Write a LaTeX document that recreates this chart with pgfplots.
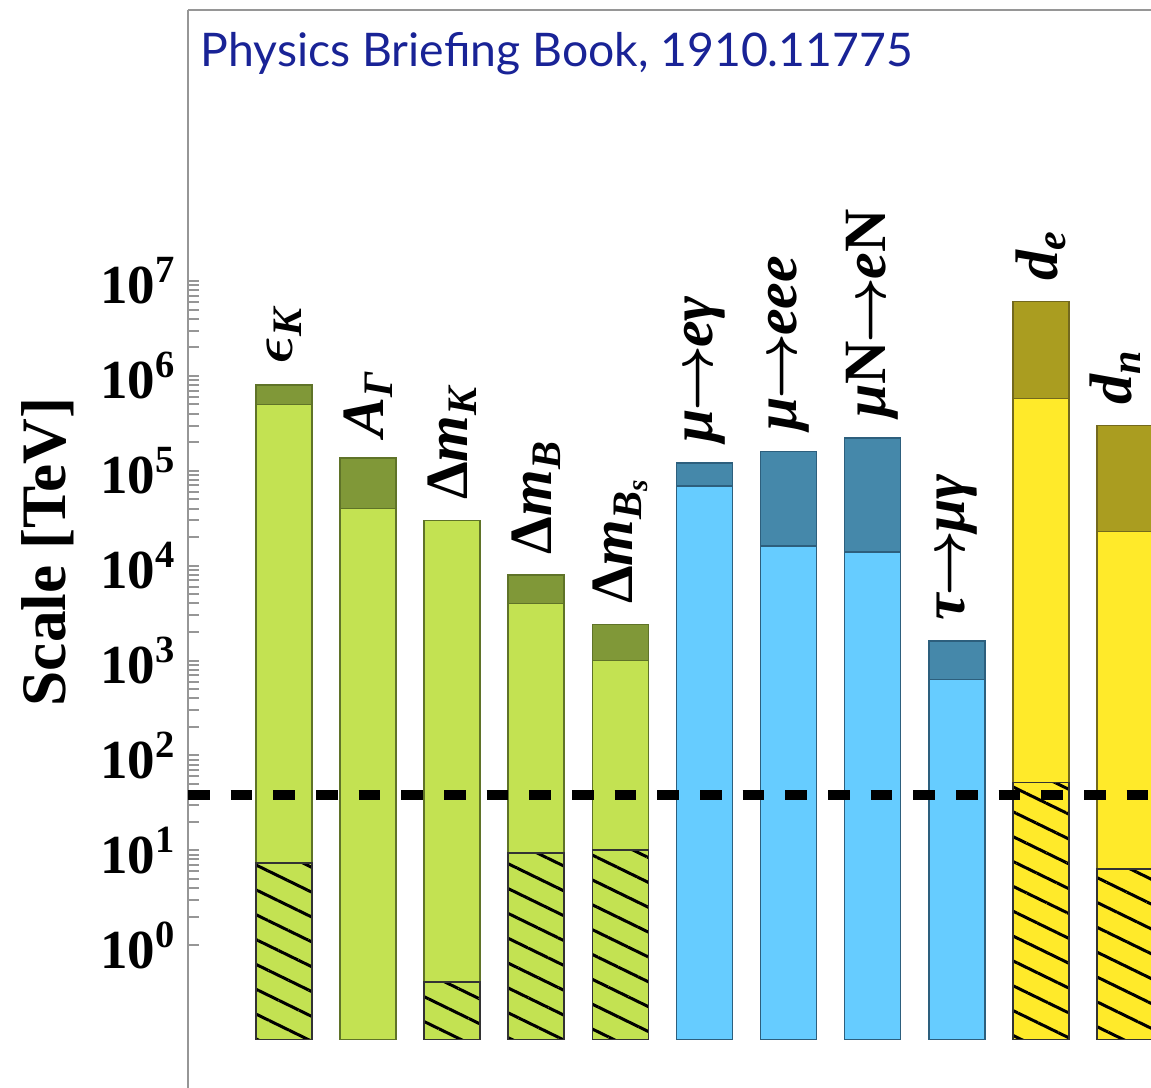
\documentclass[border=0pt]{standalone}
\usepackage{pgfplots}
\pgfplotsset{compat=1.18}
\usepackage{fontspec}
\setmainfont{Liberation Serif}
\newfontfamily\titlefont{Lato}
\usetikzlibrary{patterns.meta,calc}

\definecolor{lg}{RGB}{195,226,82}
\definecolor{dg}{RGB}{128,152,56}
\definecolor{og}{RGB}{95,115,40}
\definecolor{lb}{RGB}{102,204,255}
\definecolor{db}{RGB}{69,136,170}
\definecolor{ob}{RGB}{45,95,125}
\definecolor{ly}{RGB}{255,234,42}
\definecolor{dy}{RGB}{170,157,32}
\definecolor{oy}{RGB}{115,105,30}
\definecolor{tb}{RGB}{25,35,150}
\definecolor{sp}{RGB}{150,150,150}

\newcommand\arr{\kern-0.04em{\boldmath$\rightarrow$}\kern-0.04em}
\tikzset{lbl/.style={anchor=west, rotate=90, inner xsep=6pt, inner ysep=0pt, font=\fontsize{18}{18}\selectfont\bfseries\itshape}}

\begin{document}
\begin{tikzpicture}
\begin{axis}[
 name=ax,
 scale only axis,
 width=288.9pt, height=309pt,
 xmin=-1.141, xmax=10.31,
 ymode=log, ymin=0.1, ymax=7.2e9,
 log origin y=infty,
 axis x line*=top, axis y line*=left,
 axis line style={draw=sp, line width=0.6pt},
 y axis line style={shorten <=-14.4pt},
 xtick=\empty,
 ytick={1,10,100,1000,10000,100000,1000000,10000000},
 yticklabels={10\textsuperscript{0},10\textsuperscript{1},10\textsuperscript{2},10\textsuperscript{3},10\textsuperscript{4},10\textsuperscript{5},10\textsuperscript{6},10\textsuperscript{7}},
 minor ytick={2,3,4,5,6,7,8,9,20,30,40,50,60,70,80,90,200,300,400,500,600,700,800,900,2000,3000,4000,5000,6000,7000,8000,9000,2e4,3e4,4e4,5e4,6e4,7e4,8e4,9e4,2e5,3e5,4e5,5e5,6e5,7e5,8e5,9e5,2e6,3e6,4e6,5e6,6e6,7e6,8e6,9e6},
 tick align=inside,
 major tick length=3.3pt, minor tick length=3.3pt,
 tick style={draw=sp, line width=0.6pt},
 yticklabel style={font=\bfseries\fontsize{16.5}{16.5}\selectfont, inner sep=0pt, xshift=-3.3pt},
 ylabel={Scale [TeV]},
 ylabel shift=7.8pt,
 ylabel style={font=\bfseries\fontsize{19}{19}\selectfont, inner sep=0pt, at={(ticklabel cs:0.474)}},
 bars/.style={ybar, bar width=16.8pt, bar shift=0pt, line width=0.5pt},
]
% dark (total) parts
\addplot[bars, fill=dg, draw=og] coordinates {(0,8.0e5) (1,1.36e5) (3,8.0e3) (4,2.4e3)};
\addplot[bars, fill=db, draw=ob] coordinates {(5,1.2e5) (6,1.6e5) (7,2.2e5) (8,1.6e3)};
\addplot[bars, fill=dy, draw=oy] coordinates {(9,6.1e6) (10,3.0e5)};
% light parts
\addplot[bars, fill=lg, draw=og] coordinates {(0,5.0e5) (1,4.0e4) (2,3.0e4) (3,4.0e3) (4,1.0e3)};
\addplot[bars, fill=lb, draw=ob] coordinates {(5,6.9e4) (6,1.6e4) (7,1.4e4) (8,630)};
\addplot[bars, fill=ly, draw=oy] coordinates {(9,5.8e5) (10,2.3e4)};
% hatched parts
\addplot[bars, fill=lg, draw=black!80, postaction={pattern={Lines[angle=-26,distance=6.7pt,line width=0.9pt]}}] coordinates {(0,7.3) (2,0.41) (3,9.3) (4,10)};
\addplot[bars, fill=ly, draw=black!80, postaction={pattern={Lines[angle=-26,distance=6.7pt,line width=0.9pt]}}] coordinates {(9,52) (10,6.3)};
% dashed line
\addplot[black, line width=3pt, dash pattern=on 6.5pt off 6.3pt] coordinates {(-1.141,38) (10.31,38)};
% labels
\node[lbl] at (axis cs:0,8.0e5) {{\boldmath$\epsilon$}\textsubscript{K}};
\node[lbl] at (axis cs:1,1.36e5) {A\textsubscript{Γ}};
\node[lbl] at (axis cs:2,3.0e4) {{\upshape Δ}m\textsubscript{K}};
\node[lbl] at (axis cs:3,8.0e3) {{\upshape Δ}m\textsubscript{B}};
\node[lbl] at (axis cs:4,2.4e3) {{\upshape Δ}m\textsubscript{B\textsubscript{s}}};
\node[lbl] at (axis cs:5,1.2e5) {μ\arr eγ};
\node[lbl] at (axis cs:6,1.6e5) {μ\arr eee};
\node[lbl] at (axis cs:7,2.2e5) {μ{\upshape N}\arr e{\upshape N}};
\node[lbl] at (axis cs:8,1.6e3) {τ\arr μγ};
\node[lbl] at (axis cs:9,6.1e6) {d\textsubscript{e}};
\node[lbl, yshift=3pt] at (axis cs:10,3.0e5) {d\textsubscript{n}};
\node[anchor=base west, inner sep=0pt, text=tb, font=\titlefont\fontsize{13.9}{13.9}\selectfont, xshift=3.6pt, yshift=-17.1pt] at (rel axis cs:0,1) {Physics Briefing Book, 1910.11775};
\end{axis}
\pgfresetboundingbox
\path ($(ax.south west)+(-56.4pt,-14.4pt)$) rectangle ($(ax.north east)+(0pt,3pt)$);
\end{tikzpicture}
\end{document}
